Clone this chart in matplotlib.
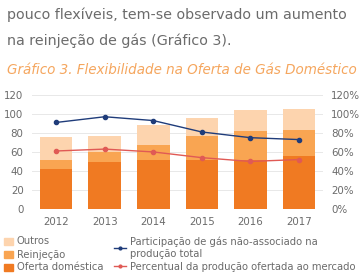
"""Gráfico 3: Flexibilidade na Oferta de Gás Doméstico (stacked bars + two % lines)."""

import matplotlib
matplotlib.use("Agg")
import matplotlib.pyplot as plt
from matplotlib.patches import Patch
from matplotlib.lines import Line2D
import numpy as np

years = ["2012", "2013", "2014", "2015", "2016", "2017"]
oferta = [42, 49, 52, 52, 51, 56]
reinjecao = [10, 11, 15, 25, 31, 27]
outros = [24, 17, 21, 19, 22, 22]
nao_associado = [91, 97, 93, 81, 75, 73]
ofertada_mercado = [61, 63, 60, 54, 50, 52]

C_OFERTA = "#F07A22"
C_REINJ = "#F9A552"
C_OUTROS = "#FDD4AE"
C_BLUE = "#1F3C7A"
C_RED = "#E05A55"
GRAY = "#6b6b6b"

plt.rcParams["font.family"] = ["DejaVu Sans"]

fig = plt.figure(figsize=(3.63, 2.75), dpi=100)

fig.text(0.02, 0.947, "pouco flexíveis, tem-se observado um aumento",
         fontsize=10.3, color=GRAY, va="center", ha="left")
fig.text(0.02, 0.853, "na reinjeção de gás (Gráfico 3).",
         fontsize=10.3, color=GRAY, va="center", ha="left")
fig.text(0.02, 0.745, "Gráfico 3. Flexibilidade na Oferta de Gás Doméstico",
         fontsize=9.75, color="#F5A65E", style="italic", va="center", ha="left")

ax = fig.add_axes([0.088, 0.24, 0.802, 0.415])
x = np.arange(len(years))
w = 0.67
ax.bar(x, oferta, w, color=C_OFERTA, zorder=2)
ax.bar(x, reinjecao, w, bottom=oferta, color=C_REINJ, zorder=2)
ax.bar(x, outros, w, bottom=np.add(oferta, reinjecao), color=C_OUTROS, zorder=2)

ax.set_xlim(-0.5, len(years) - 0.5)
ax.set_ylim(0, 120)
ax.set_yticks(range(0, 121, 20))
ax.set_xticks(x)
ax.set_xticklabels(years)
ax.grid(axis="y", color="#e8e8e8", linewidth=0.7, zorder=0)
for s in ax.spines.values():
    s.set_visible(False)
ax.tick_params(length=0, labelsize=7.4, colors=GRAY, pad=6)

ax2 = ax.twinx()
ax2.plot(x, nao_associado, color=C_BLUE, lw=1.0, marker="o", ms=3, zorder=3)
ax2.plot(x, ofertada_mercado, color=C_RED, lw=1.0, marker="o", ms=3, zorder=3)
ax2.set_ylim(0, 120)
ax2.set_yticks(range(0, 121, 20))
ax2.set_yticklabels([f"{v}%" for v in range(0, 121, 20)])
for s in ax2.spines.values():
    s.set_visible(False)
ax2.tick_params(length=0, labelsize=7.4, colors=GRAY, pad=6)

bar_handles = [Patch(color=C_OUTROS, label="Outros"),
               Patch(color=C_REINJ, label="Reinjeção"),
               Patch(color=C_OFERTA, label="Oferta doméstica")]
fig.legend(handles=bar_handles, loc="upper left", bbox_to_anchor=(0.01, 0.14),
           frameon=False, fontsize=7.2, labelcolor=GRAY, handlelength=0.9,
           handleheight=0.7, handletextpad=0.4, labelspacing=0.3,
           borderaxespad=0, borderpad=0)
line_handles = [Line2D([0], [0], color=C_BLUE, lw=1, marker="o", ms=2,
                       label="Participação de gás não-associado na\nprodução total"),
                Line2D([0], [0], color=C_RED, lw=1, marker="o", ms=2,
                       label="Percentual da produção ofertada ao mercado")]
fig.legend(handles=line_handles, loc="upper left", bbox_to_anchor=(0.315, 0.14),
           frameon=False, fontsize=7.2, labelcolor=GRAY, handlelength=1.2,
           handletextpad=0.4, labelspacing=0.3, borderaxespad=0, borderpad=0)

fig.savefig("out.png", dpi=100)
